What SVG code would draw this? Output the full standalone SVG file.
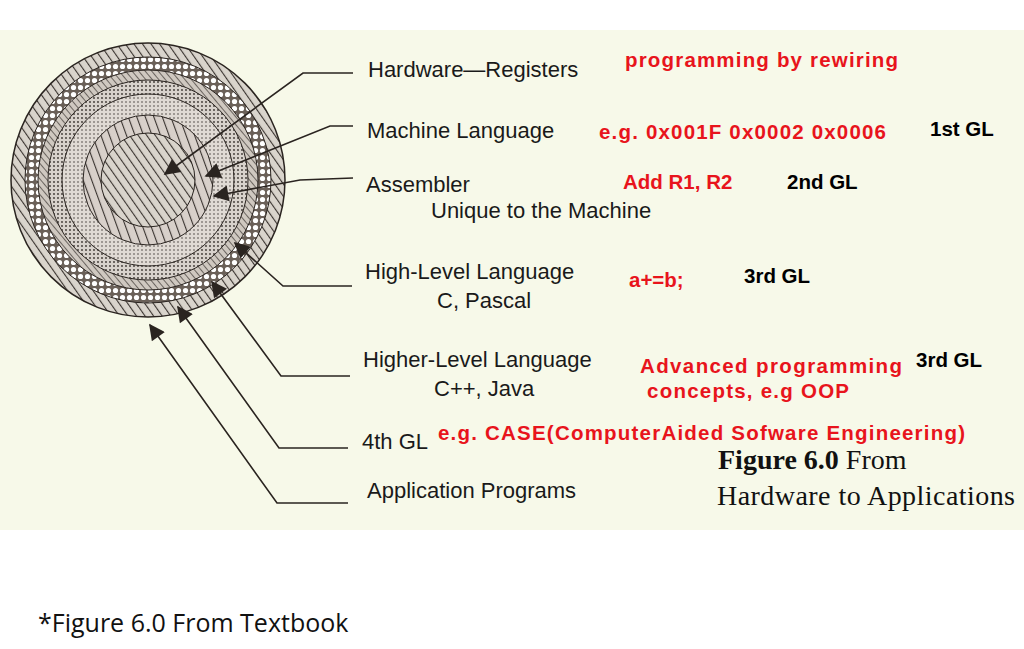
<svg xmlns="http://www.w3.org/2000/svg" width="1024" height="649" viewBox="0 0 1024 649">
<style>
.lb{font-family:"Liberation Sans",Arial,sans-serif;font-size:22px;fill:#1a1a1a}
.rd{font-family:"Liberation Sans",Arial,sans-serif;font-size:20.5px;font-weight:bold;fill:#e8141c}
.bk{font-family:"Liberation Sans",Arial,sans-serif;font-size:20.5px;font-weight:bold;fill:#000}
.fg{font-family:"Liberation Serif","Times New Roman",serif;font-size:28px;fill:#111}
.ln{fill:none;stroke:#2a2420;stroke-width:1.6}
</style>
<defs>
<pattern id="h1" width="7" height="7" patternUnits="userSpaceOnUse" patternTransform="rotate(-35)"><rect width="7" height="7" fill="#d9d4cc"/><line x1="0" y1="0" x2="0" y2="7" stroke="#3a3430" stroke-width="2.2"/></pattern>
<pattern id="h2" width="5" height="5" patternUnits="userSpaceOnUse" patternTransform="rotate(-40)"><rect width="5" height="5" fill="#cfc8c0"/><line x1="0" y1="0" x2="0" y2="5" stroke="#4a4440" stroke-width="1.5"/></pattern>
<pattern id="h3" width="8" height="8" patternUnits="userSpaceOnUse" patternTransform="rotate(-20)"><rect width="8" height="8" fill="#d8d0ca"/><line x1="0" y1="0" x2="0" y2="8" stroke="#3a3430" stroke-width="2.2"/></pattern>
<pattern id="ck" width="7" height="7" patternUnits="userSpaceOnUse"><rect width="7" height="7" fill="#6a6058"/><circle cx="3.5" cy="3.5" r="2.6" fill="#fff"/></pattern>
<pattern id="dt" width="4" height="4" patternUnits="userSpaceOnUse"><rect width="4" height="4" fill="#d8d2cc"/><circle cx="2" cy="2" r="0.9" fill="#3a3430"/></pattern>
<pattern id="dt2" width="4" height="4" patternUnits="userSpaceOnUse"><rect width="4" height="4" fill="#e0dad4"/><circle cx="2" cy="2" r="0.8" fill="#4a4440"/></pattern>
<marker id="ab" viewBox="0 0 10 10" refX="9" refY="5" markerWidth="22" markerHeight="16" orient="auto" markerUnits="userSpaceOnUse"><path d="M0,0 L10,5 L0,10 z" fill="#2a2420"/></marker>
</defs>
<rect width="1024" height="649" fill="#fff"/>
<rect x="0" y="30" width="1024" height="500" fill="#f7f9e9"/>
<g id="circle">
<circle cx="148" cy="180" r="137" fill="url(#h1)" stroke="#2a2420" stroke-width="1.5"/>
<circle cx="148" cy="180" r="123" fill="url(#ck)" stroke="#2a2420"/>
<circle cx="148" cy="180" r="110" fill="url(#h2)" stroke="#2a2420"/>
<circle cx="148" cy="180" r="100" fill="url(#dt)" stroke="#2a2420"/>
<circle cx="148" cy="180" r="86" fill="url(#dt2)" stroke="#2a2420"/>
<circle cx="148" cy="180" r="65" fill="url(#h3)" stroke="#2a2420"/>
<circle cx="148" cy="180" r="47" fill="url(#h1)" stroke="#2a2420"/>
</g>
<g id="connectors">
<polyline class="ln" points="353,73 303,73 165,174" marker-end="url(#ab)"/>
<polyline class="ln" points="353,126 330,126 206,176" marker-end="url(#ab)"/>
<polyline class="ln" points="353,178 300,180 214,196" marker-end="url(#ab)"/>
<polyline class="ln" points="352,286 283,286 235,243" marker-end="url(#ab)"/>
<polyline class="ln" points="350,376 281,376 212,282" marker-end="url(#ab)"/>
<polyline class="ln" points="348,448 279,448 178,307" marker-end="url(#ab)"/>
<polyline class="ln" points="348,503 277,503 150,325" marker-end="url(#ab)"/>
</g>
<g id="labels">
<text class="lb" x="368" y="77">Hardware—Registers</text>
<text class="lb" x="367" y="138">Machine Language</text>
<text class="lb" x="366" y="192">Assembler</text>
<text class="lb" x="431" y="218">Unique to the Machine</text>
<text class="lb" x="365" y="279">High-Level Language</text>
<text class="lb" x="437" y="308">C, Pascal</text>
<text class="lb" x="363" y="367">Higher-Level Language</text>
<text class="lb" x="434" y="396">C++, Java</text>
<text class="lb" x="362" y="449">4th GL</text>
<text class="lb" x="367" y="498">Application Programs</text>
</g>
<g id="notes">
<text class="rd" x="625" y="67" textLength="273">programming by rewiring</text>
<text class="rd" x="599" y="139" textLength="287">e.g. 0x001F 0x0002 0x0006</text>
<text class="bk" x="930" y="136">1st GL</text>
<text class="rd" x="623" y="189">Add R1, R2</text>
<text class="bk" x="787" y="189">2nd GL</text>
<text class="rd" x="629" y="287">a+=b;</text>
<text class="bk" x="744" y="283">3rd GL</text>
<text class="rd" x="640" y="373" textLength="262">Advanced programming</text>
<text class="rd" x="647" y="398" textLength="202">concepts, e.g OOP</text>
<text class="bk" x="916" y="367">3rd GL</text>
<text class="rd" x="438" y="440" textLength="527">e.g. CASE(ComputerAided Sofware Engineering)</text>
<text class="fg" x="718" y="469"><tspan font-weight="bold">Figure 6.0</tspan>  From</text>
<text class="fg" x="717" y="505" textLength="298">Hardware to Applications</text>
</g>
<text x="38" y="632" style="font-family:'Open Sans','Liberation Sans',sans-serif;font-size:25px;fill:#111">*Figure 6.0 From Textbook</text>
</svg>
